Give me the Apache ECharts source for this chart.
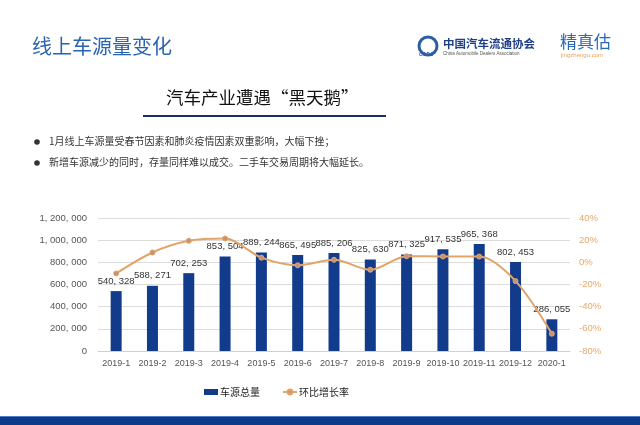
<!DOCTYPE html>
<html><head><meta charset="utf-8">
<script src="https://cdn.jsdelivr.net/npm/echarts@6/dist/echarts.min.js"></script>
<style>html,body{margin:0;padding:0;background:#fff}#c{width:640px;height:425px}</style>
</head><body><div id="c"></div>
<script>
const categories = ['2019-1','2019-2','2019-3','2019-4','2019-5','2019-6','2019-7','2019-8','2019-9','2019-10','2019-11','2019-12','2020-1'];
const totalSupply = [540328,588271,702253,853504,889244,865495,885206,825630,871325,917535,965368,802453,286055];
const momGrowth = [-0.10,0.089,0.194,0.215,0.042,-0.027,0.023,-0.067,0.055,0.053,0.052,-0.169,-0.644];
const leftTicks = {min:0,max:1200000,interval:200000};
const rightTicks = {min:-0.8,max:0.4,interval:0.2};
const bullets = ['1月线上车源量受春节因素和肺炎疫情因素双重影响，大幅下挫；','新增车源减少的同时，存量同样难以成交。二手车交易周期将大幅延长。'];

const FONT = '"Noto Sans CJK SC","Noto Sans",sans-serif';
const NUMF = '"Liberation Sans",Arial,sans-serif';
function fmtNum(v){return String(v).replace(/\B(?=(\d{3})+(?!\d))/g, ', ');}

const chart = echarts.init(document.getElementById('c'), null, {renderer:'canvas'});
chart.setOption({
  backgroundColor:'#ffffff',
  textStyle:{fontFamily:FONT},
  animation:false,
  grid:{left:98,right:70,top:218,height:133,containLabel:false},
  legend:{
    left:199, top:382, itemWidth:14, itemHeight:6, itemGap:22,
    textStyle:{fontSize:10,color:'#222',fontFamily:FONT,padding:[0,0,0,-3]},
    data:[{name:'车源总量',icon:'rect'},{name:'环比增长率'}]
  },
  xAxis:{
    type:'category', data:categories,
    axisTick:{show:false},
    axisLine:{lineStyle:{color:'#d0d0d0'}},
    axisLabel:{fontSize:9,color:'#555',margin:8,interval:0,fontFamily:NUMF}
  },
  yAxis:[
    {type:'value',min:leftTicks.min,max:leftTicks.max,interval:leftTicks.interval,
     axisLabel:{fontSize:9.5,color:'#555',margin:11,formatter:fmtNum,fontFamily:NUMF},
     splitLine:{lineStyle:{color:'#dcdcdc'}},axisLine:{show:false},axisTick:{show:false}},
    {type:'value',min:rightTicks.min,max:rightTicks.max,interval:rightTicks.interval,
     axisLabel:{fontSize:9.5,color:'#e8a868',margin:9,fontFamily:NUMF,formatter:v=>Math.round(v*100)+'%'},
     splitLine:{show:false},axisLine:{show:false},axisTick:{show:false}}
  ],
  series:[
    {name:'车源总量',type:'bar',data:totalSupply,barWidth:11,
     itemStyle:{color:'#133b8c'},
     label:{show:true,position:'top',distance:5,fontSize:9.5,color:'#333',fontFamily:NUMF,formatter:p=>fmtNum(p.value)}},
    {name:'环比增长率',type:'line',yAxisIndex:1,data:momGrowth,smooth:0.3,
     symbol:'circle',symbolSize:5,
     lineStyle:{color:'#e2a468',width:2},
     itemStyle:{color:'#c49478',borderColor:'#e2a468',borderWidth:1}}
  ],
  graphic:[
    {type:'text',left:32,top:36,style:{text:'线上车源量变化',font:'20px '+FONT,fill:'#2a64b0'}},
    {type:'circle',shape:{cx:428,cy:46,r:9},style:{fill:'none',stroke:'#2b5ea6',lineWidth:3}},
    {type:'text',left:419,top:52,style:{text:'CADA',font:'italic bold 5px sans-serif',fill:'#2b5ea6'}},
    {type:'text',left:443,top:38,style:{text:'中国汽车流通协会',font:'bold 11.5px "Noto Sans CJK SC",serif',fill:'#1f3f88'}},
    {type:'text',left:443,top:51,style:{text:'China Automobile Dealers Association',font:'4.5px sans-serif',fill:'#555'}},
    {type:'text',left:560,top:33,style:{text:'精真估',font:'17px '+FONT,fill:'#2b6ab4'}},
    {type:'text',left:561,top:52,style:{text:'jingzhengu.com',font:'6px sans-serif',fill:'#e8a060'}},
    {type:'text',left:166,top:89,style:{text:'汽车产业遭遇“黑天鹅”',font:'17.5px '+FONT,fill:'#111'}},
    {type:'rect',shape:{x:143,y:115,width:243,height:2},style:{fill:'#1c2d5e'}},
    {type:'circle',shape:{cx:37,cy:142,r:2.8},style:{fill:'#333'}},
    {type:'text',left:49,top:136,style:{text:bullets[0],font:'10px '+FONT,fill:'#333'}},
    {type:'circle',shape:{cx:37,cy:163,r:2.8},style:{fill:'#333'}},
    {type:'text',left:49,top:157,style:{text:bullets[1],font:'10px '+FONT,fill:'#333'}},
    {type:'rect',shape:{x:0,y:416,width:640,height:1},style:{fill:'#4d7fc8'}},
    {type:'rect',shape:{x:0,y:417,width:640,height:8},style:{fill:'#0e3a8a'}}
  ]
});
</script></body></html>
